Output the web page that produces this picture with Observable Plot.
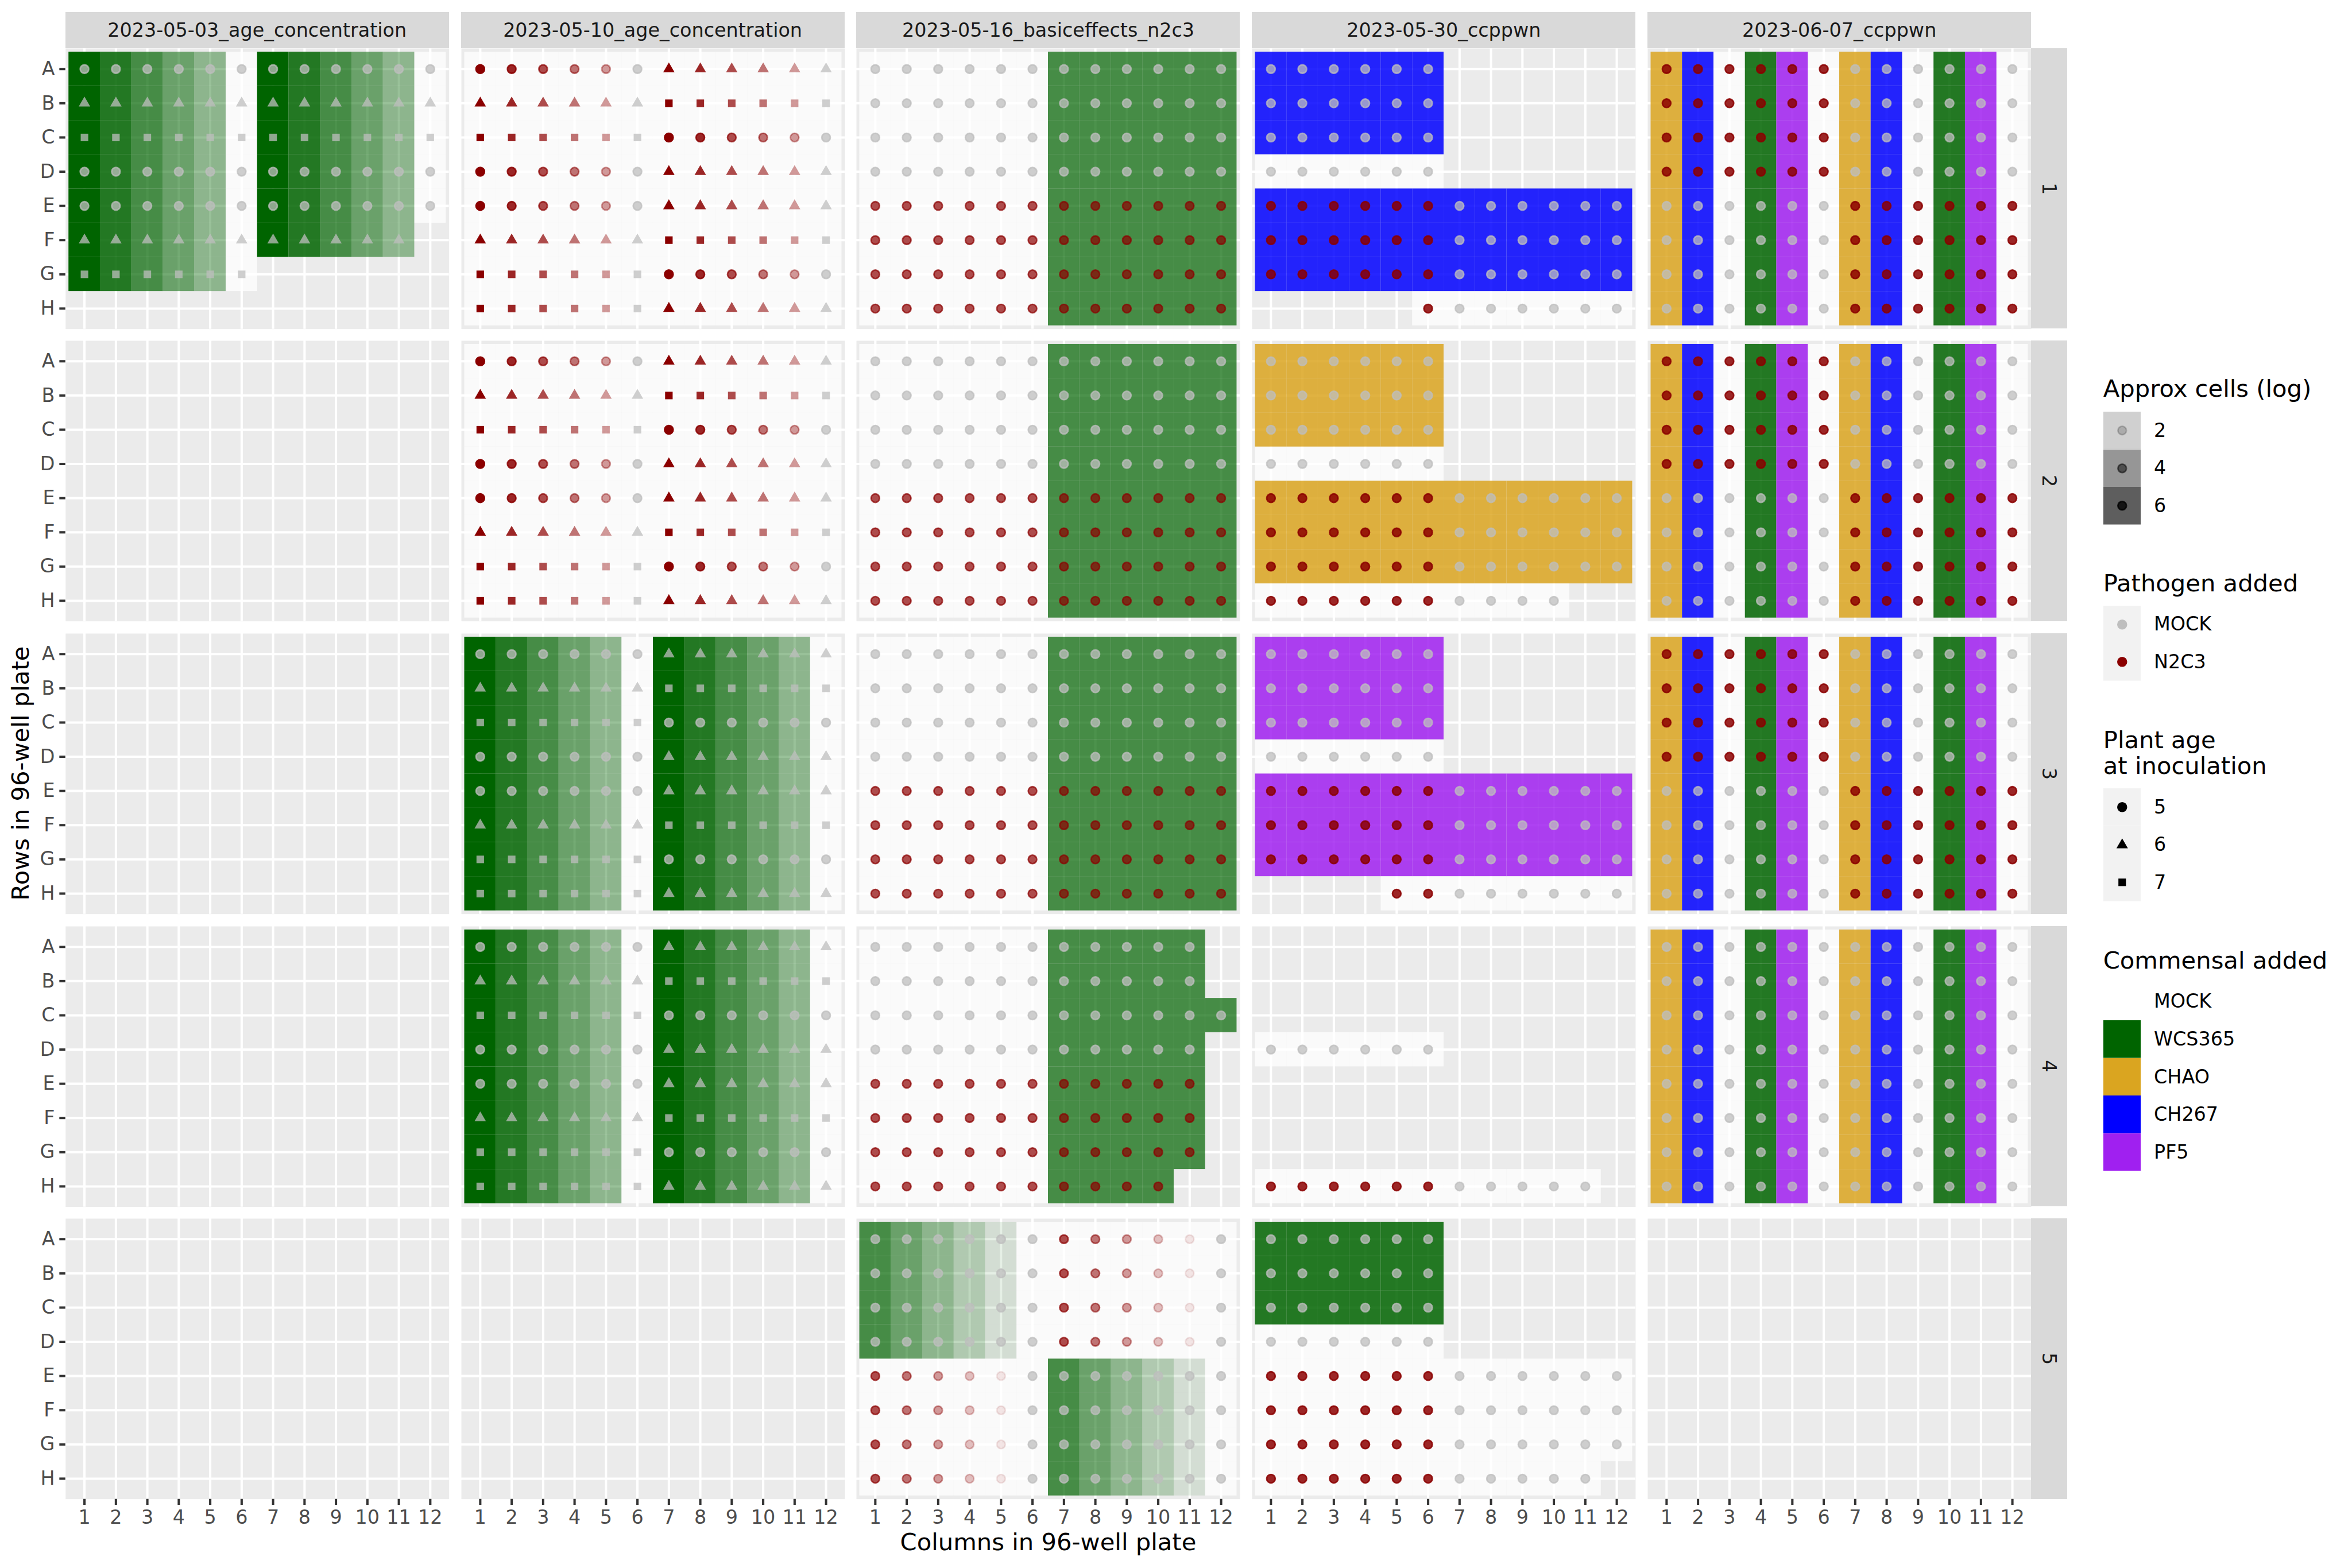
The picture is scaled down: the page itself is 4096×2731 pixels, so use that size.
<!DOCTYPE html>
<html><head><meta charset="utf-8">
<script src="https://cdn.jsdelivr.net/npm/d3@7"></script>
<script src="https://cdn.jsdelivr.net/npm/@observablehq/plot@0.6"></script>
<style>
html,body{margin:0;padding:0;background:#fff;}
#chart{position:relative;width:4096px;height:2731px;overflow:hidden;font-family:"DejaVu Sans",sans-serif;background:#fff;}
.abs{position:absolute;}
.strip{position:absolute;background:#D9D9D9;color:#1A1A1A;font-size:33.4px;display:flex;align-items:center;justify-content:center;white-space:nowrap;}
.ltxt{position:absolute;white-space:nowrap;color:#000;line-height:1;}
svg.plotpanel{position:absolute;overflow:visible;}
</style></head><body><div id="chart"></div><script>
// ---------------- data ----------------
const experiments = ["2023-05-03_age_concentration", "2023-05-10_age_concentration", "2023-05-16_basiceffects_n2c3", "2023-05-30_ccppwn", "2023-06-07_ccppwn"];
const plates = [1, 2, 3, 4, 5];
const wellRows = ["A", "B", "C", "D", "E", "F", "G", "H"];
const wellCols = [1, 2, 3, 4, 5, 6, 7, 8, 9, 10, 11, 12];
const commensals = ["MOCK", "WCS365", "CHAO", "CH267", "PF5"];
const commensalColors = ["#FFFFFF", "#006400", "#DAA520", "#0000FF", "#A020F0"];
const commensalCodes = {M: "MOCK", W: "WCS365", C: "CHAO", B: "CH267", P: "PF5"};
const pathogens = ["MOCK", "N2C3"];
const pathogenColors = ["#BEBEBE", "#8B0000"];
const pathogenCodes = {m: "MOCK", n: "N2C3"};
const plantAges = [5, 6, 7];
const ageCodes = {o: 5, t: 6, s: 7};
const ageSymbols = ["circle", "triangle", "square"];
// approx cells (log10), by level code
const approxCellsLog = {1: 1.48, 2: 2.48, 3: 3.48, 4: 4.48, 5: 5.48, 6: 6.48, 7: 7.48};
const cellBreaks = [2, 4, 6];

// well tokens: [commensal][commensal level][pathogen][pathogen level]; "...." = empty well
const p0503_1 = [
  "W7m- W6m- W5m- W4m- W3m- M-m- W7m- W6m- W5m- W4m- W3m- M-m-",
  "W7m- W6m- W5m- W4m- W3m- M-m- W7m- W6m- W5m- W4m- W3m- M-m-",
  "W7m- W6m- W5m- W4m- W3m- M-m- W7m- W6m- W5m- W4m- W3m- M-m-",
  "W7m- W6m- W5m- W4m- W3m- M-m- W7m- W6m- W5m- W4m- W3m- M-m-",
  "W7m- W6m- W5m- W4m- W3m- M-m- W7m- W6m- W5m- W4m- W3m- M-m-",
  "W7m- W6m- W5m- W4m- W3m- M-m- W7m- W6m- W5m- W4m- W3m- ....",
  "W7m- W6m- W5m- W4m- W3m- M-m- .... .... .... .... .... ....",
  ".... .... .... .... .... .... .... .... .... .... .... ...."];
const age0503_1 = ["oooooo oooooo", "tttttt tttttt", "ssssss ssssss", "oooooo oooooo", "oooooo oooooo", "tttttt tttttt", "ssssss ssssss", "oooooo oooooo"];

const p0510_pathogen = [
  "M-n7 M-n6 M-n5 M-n4 M-n3 M-m- M-n7 M-n6 M-n5 M-n4 M-n3 M-m-",
  "M-n7 M-n6 M-n5 M-n4 M-n3 M-m- M-n7 M-n6 M-n5 M-n4 M-n3 M-m-",
  "M-n7 M-n6 M-n5 M-n4 M-n3 M-m- M-n7 M-n6 M-n5 M-n4 M-n3 M-m-",
  "M-n7 M-n6 M-n5 M-n4 M-n3 M-m- M-n7 M-n6 M-n5 M-n4 M-n3 M-m-",
  "M-n7 M-n6 M-n5 M-n4 M-n3 M-m- M-n7 M-n6 M-n5 M-n4 M-n3 M-m-",
  "M-n7 M-n6 M-n5 M-n4 M-n3 M-m- M-n7 M-n6 M-n5 M-n4 M-n3 M-m-",
  "M-n7 M-n6 M-n5 M-n4 M-n3 M-m- M-n7 M-n6 M-n5 M-n4 M-n3 M-m-",
  "M-n7 M-n6 M-n5 M-n4 M-n3 M-m- M-n7 M-n6 M-n5 M-n4 M-n3 M-m-"];
const p0510_commensal = [
  "W7m- W6m- W5m- W4m- W3m- M-m- W7m- W6m- W5m- W4m- W3m- M-m-",
  "W7m- W6m- W5m- W4m- W3m- M-m- W7m- W6m- W5m- W4m- W3m- M-m-",
  "W7m- W6m- W5m- W4m- W3m- M-m- W7m- W6m- W5m- W4m- W3m- M-m-",
  "W7m- W6m- W5m- W4m- W3m- M-m- W7m- W6m- W5m- W4m- W3m- M-m-",
  "W7m- W6m- W5m- W4m- W3m- M-m- W7m- W6m- W5m- W4m- W3m- M-m-",
  "W7m- W6m- W5m- W4m- W3m- M-m- W7m- W6m- W5m- W4m- W3m- M-m-",
  "W7m- W6m- W5m- W4m- W3m- M-m- W7m- W6m- W5m- W4m- W3m- M-m-",
  "W7m- W6m- W5m- W4m- W3m- M-m- W7m- W6m- W5m- W4m- W3m- M-m-"];
const age0510 = ["oooooo tttttt", "tttttt ssssss", "ssssss oooooo", "oooooo tttttt", "oooooo tttttt", "tttttt ssssss", "ssssss oooooo", "ssssss tttttt"];

const p0516_full = [
  "M-m- M-m- M-m- M-m- M-m- M-m- W5m- W5m- W5m- W5m- W5m- W5m-",
  "M-m- M-m- M-m- M-m- M-m- M-m- W5m- W5m- W5m- W5m- W5m- W5m-",
  "M-m- M-m- M-m- M-m- M-m- M-m- W5m- W5m- W5m- W5m- W5m- W5m-",
  "M-m- M-m- M-m- M-m- M-m- M-m- W5m- W5m- W5m- W5m- W5m- W5m-",
  "M-n5 M-n5 M-n5 M-n5 M-n5 M-n5 W5n5 W5n5 W5n5 W5n5 W5n5 W5n5",
  "M-n5 M-n5 M-n5 M-n5 M-n5 M-n5 W5n5 W5n5 W5n5 W5n5 W5n5 W5n5",
  "M-n5 M-n5 M-n5 M-n5 M-n5 M-n5 W5n5 W5n5 W5n5 W5n5 W5n5 W5n5",
  "M-n5 M-n5 M-n5 M-n5 M-n5 M-n5 W5n5 W5n5 W5n5 W5n5 W5n5 W5n5"];
const p0516_4 = [
  "M-m- M-m- M-m- M-m- M-m- M-m- W5m- W5m- W5m- W5m- W5m- ....",
  "M-m- M-m- M-m- M-m- M-m- M-m- W5m- W5m- W5m- W5m- W5m- ....",
  "M-m- M-m- M-m- M-m- M-m- M-m- W5m- W5m- W5m- W5m- W5m- W5m-",
  "M-m- M-m- M-m- M-m- M-m- M-m- W5m- W5m- W5m- W5m- W5m- ....",
  "M-n5 M-n5 M-n5 M-n5 M-n5 M-n5 W5n5 W5n5 W5n5 W5n5 W5n5 ....",
  "M-n5 M-n5 M-n5 M-n5 M-n5 M-n5 W5n5 W5n5 W5n5 W5n5 W5n5 ....",
  "M-n5 M-n5 M-n5 M-n5 M-n5 M-n5 W5n5 W5n5 W5n5 W5n5 W5n5 ....",
  "M-n5 M-n5 M-n5 M-n5 M-n5 M-n5 W5n5 W5n5 W5n5 W5n5 .... ...."];
const p0516_5 = [
  "W5m- W4m- W3m- W2m- W1m- M-m- M-n5 M-n4 M-n3 M-n2 M-n1 M-m-",
  "W5m- W4m- W3m- W2m- W1m- M-m- M-n5 M-n4 M-n3 M-n2 M-n1 M-m-",
  "W5m- W4m- W3m- W2m- W1m- M-m- M-n5 M-n4 M-n3 M-n2 M-n1 M-m-",
  "W5m- W4m- W3m- W2m- W1m- M-m- M-n5 M-n4 M-n3 M-n2 M-n1 M-m-",
  "M-n5 M-n4 M-n3 M-n2 M-n1 M-m- W5m- W4m- W3m- W2m- W1m- M-m-",
  "M-n5 M-n4 M-n3 M-n2 M-n1 M-m- W5m- W4m- W3m- W2m- W1m- M-m-",
  "M-n5 M-n4 M-n3 M-n2 M-n1 M-m- W5m- W4m- W3m- W2m- W1m- M-m-",
  "M-n5 M-n4 M-n3 M-n2 M-n1 M-m- W5m- W4m- W3m- W2m- W1m- M-m-"];

const p0530_1 = [
  "B6m- B6m- B6m- B6m- B6m- B6m- .... .... .... .... .... ....",
  "B6m- B6m- B6m- B6m- B6m- B6m- .... .... .... .... .... ....",
  "B6m- B6m- B6m- B6m- B6m- B6m- .... .... .... .... .... ....",
  "M-m- M-m- M-m- M-m- M-m- M-m- .... .... .... .... .... ....",
  "B6n6 B6n6 B6n6 B6n6 B6n6 B6n6 B6m- B6m- B6m- B6m- B6m- B6m-",
  "B6n6 B6n6 B6n6 B6n6 B6n6 B6n6 B6m- B6m- B6m- B6m- B6m- B6m-",
  "B6n6 B6n6 B6n6 B6n6 B6n6 B6n6 B6m- B6m- B6m- B6m- B6m- B6m-",
  ".... .... .... .... .... M-n6 M-m- M-m- M-m- M-m- M-m- M-m-"];
const p0530_2 = [
  "C6m- C6m- C6m- C6m- C6m- C6m- .... .... .... .... .... ....",
  "C6m- C6m- C6m- C6m- C6m- C6m- .... .... .... .... .... ....",
  "C6m- C6m- C6m- C6m- C6m- C6m- .... .... .... .... .... ....",
  "M-m- M-m- M-m- M-m- M-m- M-m- .... .... .... .... .... ....",
  "C6n6 C6n6 C6n6 C6n6 C6n6 C6n6 C6m- C6m- C6m- C6m- C6m- C6m-",
  "C6n6 C6n6 C6n6 C6n6 C6n6 C6n6 C6m- C6m- C6m- C6m- C6m- C6m-",
  "C6n6 C6n6 C6n6 C6n6 C6n6 C6n6 C6m- C6m- C6m- C6m- C6m- C6m-",
  "M-n6 M-n6 M-n6 M-n6 M-n6 M-n6 M-m- M-m- M-m- M-m- .... ...."];
const p0530_3 = [
  "P6m- P6m- P6m- P6m- P6m- P6m- .... .... .... .... .... ....",
  "P6m- P6m- P6m- P6m- P6m- P6m- .... .... .... .... .... ....",
  "P6m- P6m- P6m- P6m- P6m- P6m- .... .... .... .... .... ....",
  "M-m- M-m- M-m- M-m- M-m- M-m- .... .... .... .... .... ....",
  "P6n6 P6n6 P6n6 P6n6 P6n6 P6n6 P6m- P6m- P6m- P6m- P6m- P6m-",
  "P6n6 P6n6 P6n6 P6n6 P6n6 P6n6 P6m- P6m- P6m- P6m- P6m- P6m-",
  "P6n6 P6n6 P6n6 P6n6 P6n6 P6n6 P6m- P6m- P6m- P6m- P6m- P6m-",
  ".... .... .... .... M-n6 M-n6 M-m- M-m- M-m- M-m- M-m- M-m-"];
const p0530_4 = [
  ".... .... .... .... .... .... .... .... .... .... .... ....",
  ".... .... .... .... .... .... .... .... .... .... .... ....",
  ".... .... .... .... .... .... .... .... .... .... .... ....",
  "M-m- M-m- M-m- M-m- M-m- M-m- .... .... .... .... .... ....",
  ".... .... .... .... .... .... .... .... .... .... .... ....",
  ".... .... .... .... .... .... .... .... .... .... .... ....",
  ".... .... .... .... .... .... .... .... .... .... .... ....",
  "M-n6 M-n6 M-n6 M-n6 M-n6 M-n6 M-m- M-m- M-m- M-m- M-m- ...."];
const p0530_5 = [
  "W6m- W6m- W6m- W6m- W6m- W6m- .... .... .... .... .... ....",
  "W6m- W6m- W6m- W6m- W6m- W6m- .... .... .... .... .... ....",
  "W6m- W6m- W6m- W6m- W6m- W6m- .... .... .... .... .... ....",
  "M-m- M-m- M-m- M-m- M-m- M-m- .... .... .... .... .... ....",
  "M-n6 M-n6 M-n6 M-n6 M-n6 M-n6 M-m- M-m- M-m- M-m- M-m- M-m-",
  "M-n6 M-n6 M-n6 M-n6 M-n6 M-n6 M-m- M-m- M-m- M-m- M-m- M-m-",
  "M-n6 M-n6 M-n6 M-n6 M-n6 M-n6 M-m- M-m- M-m- M-m- M-m- M-m-",
  "M-n6 M-n6 M-n6 M-n6 M-n6 M-n6 M-m- M-m- M-m- M-m- M-m- ...."];

const p0607_inf = [
  "C6n6 B6n6 M-n6 W6n6 P6n6 M-n6 C6m- B6m- M-m- W6m- P6m- M-m-",
  "C6n6 B6n6 M-n6 W6n6 P6n6 M-n6 C6m- B6m- M-m- W6m- P6m- M-m-",
  "C6n6 B6n6 M-n6 W6n6 P6n6 M-n6 C6m- B6m- M-m- W6m- P6m- M-m-",
  "C6n6 B6n6 M-n6 W6n6 P6n6 M-n6 C6m- B6m- M-m- W6m- P6m- M-m-",
  "C6m- B6m- M-m- W6m- P6m- M-m- C6n6 B6n6 M-n6 W6n6 P6n6 M-n6",
  "C6m- B6m- M-m- W6m- P6m- M-m- C6n6 B6n6 M-n6 W6n6 P6n6 M-n6",
  "C6m- B6m- M-m- W6m- P6m- M-m- C6n6 B6n6 M-n6 W6n6 P6n6 M-n6",
  "C6m- B6m- M-m- W6m- P6m- M-m- C6n6 B6n6 M-n6 W6n6 P6n6 M-n6"];
const p0607_4 = [
  "C6m- B6m- M-m- W6m- P6m- M-m- C6m- B6m- M-m- W6m- P6m- M-m-",
  "C6m- B6m- M-m- W6m- P6m- M-m- C6m- B6m- M-m- W6m- P6m- M-m-",
  "C6m- B6m- M-m- W6m- P6m- M-m- C6m- B6m- M-m- W6m- P6m- M-m-",
  "C6m- B6m- M-m- W6m- P6m- M-m- C6m- B6m- M-m- W6m- P6m- M-m-",
  "C6m- B6m- M-m- W6m- P6m- M-m- C6m- B6m- M-m- W6m- P6m- M-m-",
  "C6m- B6m- M-m- W6m- P6m- M-m- C6m- B6m- M-m- W6m- P6m- M-m-",
  "C6m- B6m- M-m- W6m- P6m- M-m- C6m- B6m- M-m- W6m- P6m- M-m-",
  "C6m- B6m- M-m- W6m- P6m- M-m- C6m- B6m- M-m- W6m- P6m- M-m-"];

// layouts[experiment][plate]
const layouts = [
  [[p0503_1, age0503_1], null, null, null, null],
  [[p0510_pathogen, age0510], [p0510_pathogen, age0510], [p0510_commensal, age0510], [p0510_commensal, age0510], null],
  [[p0516_full], [p0516_full], [p0516_full], [p0516_4], [p0516_5]],
  [[p0530_1], [p0530_2], [p0530_3], [p0530_4], [p0530_5]],
  [[p0607_inf], [p0607_inf], [p0607_inf], [p0607_4], null]
];

// ---------------- layout constants ----------------
const S = 0.91;
const PW = 734 * S, PH = 537 * S, STEPX = 757 * S, STEPY = 560 * S;
const X0 = 125 * S, Y0 = 92 * S, STRIP = 69 * S, STRIPTOP = 23 * S;
const R = 8.15 * S, CSW = 2.95 * S, LW = 4.45 * S;
const TICK = 11.46 * S, TPAD = 9.17 * S, FS_AX = 36.67 * S, FS_TITLE = 45.83 * S;
const MOCK_ALPHA = 0.75;
const OPACITY_DOMAIN = [1.48, 7.48], OPACITY_RANGE = [0.1, 1];

const chart = document.getElementById("chart");
const comColor = Object.fromEntries(commensals.map((c, i) => [c, commensalColors[i]]));
const pathColor = Object.fromEntries(pathogens.map((p, i) => [p, pathogenColors[i]]));
const ageSymbol = Object.fromEntries(plantAges.map((a, i) => [a, ageSymbols[i]]));

function parsePlate(layout) {
  if (!layout) return [];
  const [rows, ages] = layout;
  const wells = [];
  rows.forEach((line, i) => {
    const toks = line.trim().split(/\s+/);
    const ageRow = ages ? ages[i].replace(/\s+/g, "") : null;
    toks.forEach((t, j) => {
      if (t === "....") return;
      wells.push({
        row: wellRows[i], col: wellCols[j],
        commensal: commensalCodes[t[0]],
        comLog: t[1] === "-" ? null : approxCellsLog[t[1]],
        pathogen: pathogenCodes[t[2]],
        pathLog: t[3] === "-" ? null : approxCellsLog[t[3]],
        age: ageRow ? ageCodes[ageRow[j]] : 5
      });
    });
  });
  return wells;
}

function panelPlot(wells, showX, showY) {
  const ml = showY ? X0 : 0, mb = showX ? 75 : 0;
  const marks = [
    Plot.frame({fill: "#EBEBEB", stroke: "none"}),
    Plot.gridX(wellCols, {stroke: "#FFFFFF", strokeOpacity: 1, strokeWidth: LW}),
    Plot.gridY(wellRows, {stroke: "#FFFFFF", strokeOpacity: 1, strokeWidth: LW}),
    Plot.cell(wells.filter(d => d.commensal === "MOCK"), {x: "col", y: "row", fill: "#FFFFFF", fillOpacity: MOCK_ALPHA, inset: 0}),
    Plot.cell(wells.filter(d => d.commensal !== "MOCK"), {x: "col", y: "row", fill: d => comColor[d.commensal], fillOpacity: "comLog", inset: 0})
  ];
  for (const age of plantAges) {
    const sym = ageSymbol[age];
    const circ = sym === "circle";
    const mock = wells.filter(d => d.age === age && d.pathogen === "MOCK");
    const n2 = wells.filter(d => d.age === age && d.pathogen === "N2C3");
    marks.push(Plot.dot(mock, {x: "col", y: "row", symbol: sym, r: R, fill: pathColor.MOCK, fillOpacity: MOCK_ALPHA,
      stroke: circ ? pathColor.MOCK : "none", strokeOpacity: MOCK_ALPHA, strokeWidth: CSW}));
    marks.push(Plot.dot(n2, {x: "col", y: "row", symbol: sym, r: R, fill: pathColor.N2C3, fillOpacity: "pathLog",
      stroke: circ ? pathColor.N2C3 : "none", strokeOpacity: "pathLog", strokeWidth: CSW}));
  }
  if (showY) marks.push(Plot.axisY(wellRows, {anchor: "left", tickSize: TICK, tickPadding: TPAD, fontSize: FS_AX,
    stroke: "#333333", fill: "#4D4D4D", strokeWidth: LW, label: null}));
  if (showX) marks.push(Plot.axisX(wellCols, {anchor: "bottom", tickSize: TICK, tickPadding: TPAD, fontSize: FS_AX,
    stroke: "#333333", fill: "#4D4D4D", strokeWidth: LW, label: null}));
  const xOpt = {type: "band", domain: wellCols, paddingInner: 0, paddingOuter: 0.1, align: 0.5, round: false};
  const yOpt = {type: "band", domain: wellRows, paddingInner: 0, paddingOuter: 0.1, align: 0.5, round: false};
  if (!showX) xOpt.axis = null;
  if (!showY) yOpt.axis = null;
  return Plot.plot({
    width: ml + PW, height: PH + mb,
    marginLeft: ml, marginRight: 0, marginTop: 0, marginBottom: mb,
    style: {background: "transparent", fontFamily: "DejaVu Sans", overflow: "visible"},
    x: xOpt, y: yOpt,
    color: {type: "identity"},
    opacity: {type: "linear", domain: OPACITY_DOMAIN, range: OPACITY_RANGE},
    marks
  });
}

function addDiv(cls, left, top, w, h, html, extra = "") {
  const d = document.createElement("div");
  d.className = cls;
  d.style.cssText = `left:${left}px;top:${top}px;` + (w != null ? `width:${w}px;` : "") + (h != null ? `height:${h}px;` : "") + extra;
  d.innerHTML = html;
  chart.appendChild(d);
  return d;
}

// panels
experiments.forEach((exp, ei) => {
  plates.forEach((pl, pi) => {
    const wells = parsePlate(layouts[ei][pi]);
    const showX = pi === plates.length - 1, showY = ei === 0;
    const svg = panelPlot(wells, showX, showY);
    svg.classList.add("plotpanel");
    const left = X0 + ei * STEPX - (showY ? X0 : 0);
    const top = Y0 + pi * STEPY;
    svg.style.left = left + "px";
    svg.style.top = top + "px";
    chart.appendChild(svg);
  });
});

// strips
experiments.forEach((exp, ei) => addDiv("strip", X0 + ei * STEPX, STRIPTOP, PW, STRIP, exp));
plates.forEach((pl, pi) => addDiv("strip", X0 + 4 * STEPX + PW, Y0 + pi * STEPY, STRIP, PH,
  `<span style="display:inline-block;transform:rotate(90deg)">${pl}</span>`));

// axis titles
const panelsCenterX = X0 + (4 * STEPX + PW) / 2;
addDiv("ltxt", panelsCenterX, 2686, null, null, "Columns in 96-well plate",
  `font-size:${FS_TITLE}px;transform:translate(-50%,-50%);`);
const panelsCenterY = Y0 + (4 * STEPY + PH) / 2;
addDiv("ltxt", 36.4, panelsCenterY, null, null, "Rows in 96-well plate",
  `font-size:${FS_TITLE}px;transform:translate(-50%,-50%) rotate(-90deg);`);

// ---------------- legends ----------------
const LX = 4025 * S, LKEY = 72 * S, LLAB = 4122 * S;
const FS_LT = 45.83 * S, FS_LL = 36.67 * S;
const alphaOf = d3.scaleLinear().domain(OPACITY_DOMAIN).range(OPACITY_RANGE);
function keySvg(top, draw) {
  const svg = d3.create("svg").attr("width", LKEY).attr("height", LKEY)
    .style("position", "absolute").style("left", LX + "px").style("top", top + "px");
  draw(svg);
  chart.appendChild(svg.node());
}
function symPath(sym) {
  const t = {circle: d3.symbolCircle, triangle: d3.symbolTriangle, square: d3.symbolSquare}[sym];
  return d3.symbol(t, Math.PI * R * R)();
}
function legendTitle(lines, centerY) {
  lines.forEach((ln, i) => addDiv("ltxt", LX, centerY + i * 49 * S, null, null, ln,
    `font-size:${FS_LT}px;transform:translateY(-50%);`));
}
function legendLabel(txt, keyTop) {
  addDiv("ltxt", LLAB, keyTop + LKEY / 2, null, null, txt, `font-size:${FS_LL}px;transform:translateY(-50%);`);
}

// Approx cells (log)
legendTitle(["Approx cells (log)"], 744 * S);
cellBreaks.forEach((v, i) => {
  const top = 788 * S + i * LKEY, a = alphaOf(v);
  keySvg(top, svg => {
    svg.append("rect").attr("width", LKEY).attr("height", LKEY).attr("fill", "#F2F2F2");
    svg.append("rect").attr("width", LKEY).attr("height", LKEY).attr("fill", "#333333").attr("fill-opacity", a);
    svg.append("circle").attr("cx", LKEY / 2).attr("cy", LKEY / 2).attr("r", R)
      .attr("fill", "#000").attr("fill-opacity", a).attr("stroke", "#000").attr("stroke-opacity", a).attr("stroke-width", CSW);
  });
  legendLabel(String(v), top);
});

// Pathogen added
legendTitle(["Pathogen added"], 1116 * S);
pathogens.forEach((p, i) => {
  const top = 1159 * S + i * LKEY;
  keySvg(top, svg => {
    svg.append("rect").attr("width", LKEY).attr("height", LKEY).attr("fill", "#F2F2F2");
    svg.append("circle").attr("cx", LKEY / 2).attr("cy", LKEY / 2).attr("r", R)
      .attr("fill", pathogenColors[i]).attr("stroke", pathogenColors[i]).attr("stroke-width", CSW);
  });
  legendLabel(p, top);
});

// Plant age
legendTitle(["Plant age", "at inoculation"], 1417 * S);
plantAges.forEach((a, i) => {
  const top = 1509 * S + i * LKEY;
  keySvg(top, svg => {
    svg.append("rect").attr("width", LKEY).attr("height", LKEY).attr("fill", "#F2F2F2");
    const p = svg.append("path").attr("d", symPath(ageSymbols[i])).attr("transform", `translate(${LKEY / 2},${LKEY / 2})`).attr("fill", "#000");
    if (ageSymbols[i] === "circle") p.attr("stroke", "#000").attr("stroke-width", CSW);
  });
  legendLabel(String(a), top);
});

// Commensal added
legendTitle(["Commensal added"], 1838 * S);
commensals.forEach((c, i) => {
  const top = 1881 * S + i * LKEY;
  keySvg(top, svg => {
    svg.append("rect").attr("width", LKEY).attr("height", LKEY).attr("fill", commensalColors[i]);
  });
  legendLabel(c, top);
});
</script></body></html>
